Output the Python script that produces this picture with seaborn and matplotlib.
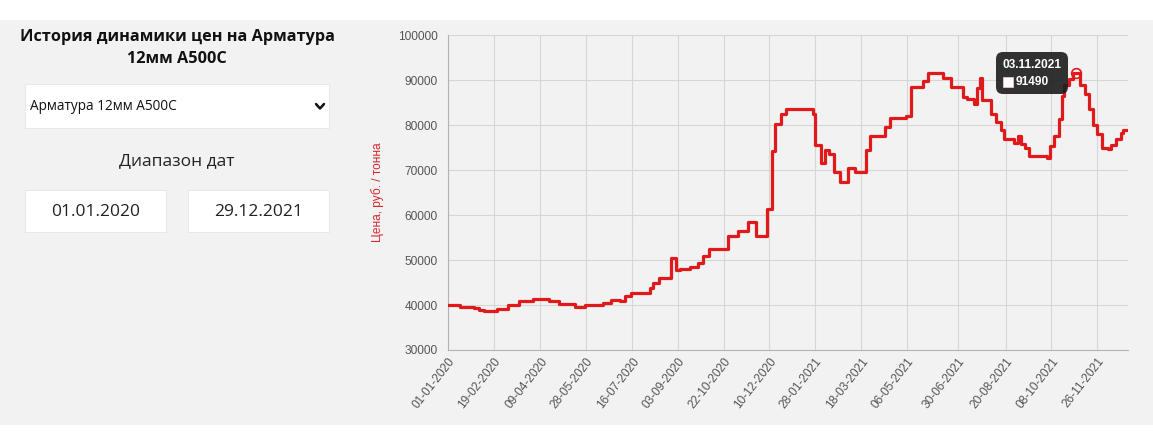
import pandas as pd
import matplotlib.pyplot as plt
import seaborn as sns
from matplotlib.patches import Rectangle
from matplotlib.lines import Line2D
from matplotlib.offsetbox import AnnotationBbox, TextArea, VPacker, HPacker, DrawingArea
import matplotlib.dates as mdates

# Price history (start date of each price level, rub / tonne)
dates = [
    "2020-01-01", "2020-01-14", "2020-01-29", "2020-02-03", "2020-02-09", "2020-02-22",
    "2020-03-05", "2020-03-17", "2020-04-01", "2020-04-18", "2020-04-29", "2020-05-16",
    "2020-05-27", "2020-06-15", "2020-06-24", "2020-07-03", "2020-07-09", "2020-07-15",
    "2020-08-04", "2020-08-08", "2020-08-14", "2020-08-27", "2020-09-01", "2020-09-05",
    "2020-09-16", "2020-09-25", "2020-09-30", "2020-10-06", "2020-10-27", "2020-11-07",
    "2020-11-17", "2020-11-26", "2020-12-08", "2020-12-13", "2020-12-16", "2020-12-22",
    "2020-12-28", "2021-01-26", "2021-01-28", "2021-02-03", "2021-02-08", "2021-02-12",
    "2021-02-17", "2021-02-24", "2021-03-04", "2021-03-12", "2021-03-24", "2021-03-28",
    "2021-04-13", "2021-04-18", "2021-05-05", "2021-05-11", "2021-05-24", "2021-05-29",
    "2021-06-14", "2021-06-22", "2021-07-05", "2021-07-10", "2021-07-17", "2021-07-20",
    "2021-07-24", "2021-07-26", "2021-08-04", "2021-08-10", "2021-08-15", "2021-08-18",
    "2021-08-29", "2021-09-02", "2021-09-05", "2021-09-10", "2021-09-14", "2021-10-03",
    "2021-10-06", "2021-10-11", "2021-10-16", "2021-10-19", "2021-10-21", "2021-10-27",
    "2021-10-31", "2021-11-08", "2021-11-13", "2021-11-17", "2021-11-22", "2021-11-26",
    "2021-12-01", "2021-12-08", "2021-12-11", "2021-12-16", "2021-12-21", "2021-12-24",
    "2021-12-29",
]
prices = [
    39900, 39600, 39300, 38900, 38600, 39200,
    40000, 40900, 41400, 40800, 40200, 39600,
    40100, 40500, 41200, 40900, 42000, 42600,
    43800, 44800, 45900, 50400, 47800, 48100,
    48500, 49300, 51000, 52400, 55300, 56400,
    58400, 55400, 61400, 74200, 80300, 82400,
    83500, 82400, 75500, 71600, 74400, 73500,
    69500, 67400, 70500, 69500, 74400, 77500,
    79600, 81600, 82000, 88500, 89800, 91600,
    90500, 88500, 86300, 85700, 84600, 88300,
    90500, 85500, 82400, 80700, 79000, 77000,
    76100, 77500, 75700, 74900, 73100, 72700,
    75300, 77500, 81300, 86400, 89000, 90300,
    91490, 89000, 86800, 83500, 79900, 77900,
    74900, 74600, 75500, 76800, 78300, 79000,
    79000,
]

tick_dates = [
    "2020-01-01", "2020-02-19", "2020-04-09", "2020-05-28", "2020-07-16",
    "2020-09-03", "2020-10-22", "2020-12-10", "2021-01-28", "2021-03-18",
    "2021-05-06", "2021-06-30", "2021-08-20", "2021-10-08", "2021-11-26",
]
y_ticks = [30000, 40000, 50000, 60000, 70000, 80000, 90000, 100000]

hover_date = "2021-11-03"
hover_price = 91490

df = pd.DataFrame({"date": pd.to_datetime(dates), "price": prices})

sns.set_style("whitegrid", {
    "axes.facecolor": "#f2f2f2",
    "grid.color": "#d6d6d6",
    "axes.edgecolor": "#b3b3b3",
})
plt.rcParams["font.family"] = ["Liberation Sans", "DejaVu Sans"]

W, H = 1153, 445
fig = plt.figure(figsize=(W / 100, H / 100), dpi=100)
fig.patch.set_facecolor("white")
fig.patches.append(Rectangle((0, 20 / H), 1, 405 / H, transform=fig.transFigure,
                             facecolor="#f2f2f2", edgecolor="none", zorder=-5))


def fx(x):
    return x / W


def fy(y):
    return 1 - y / H


# left panel
ui_font = ["Open Sans", "DejaVu Sans"]
fig.text(fx(177), fy(37), "История динамики цен на Арматура", ha="center", va="center",
         fontsize=11.7, fontweight="bold", family=ui_font, color="#111111")
fig.text(fx(177), fy(59), "12мм А500С", ha="center", va="center",
         fontsize=11.7, fontweight="bold", family=ui_font, color="#111111")

fig.patches.append(Rectangle((fx(25), fy(128)), (329 - 25) / W, 44 / H, transform=fig.transFigure,
                             facecolor="white", edgecolor="#e6e6e6", lw=0.6, zorder=-4))
fig.text(fx(30), fy(106), "Арматура 12мм А500С", ha="left", va="center",
         fontsize=9.8, family=ui_font, color="#111111")
fig.add_artist(Line2D([fx(316), fx(320), fx(324)], [fy(104), fy(108.5), fy(104)],
                      transform=fig.transFigure, color="#111111", lw=1.8))

fig.text(fx(177), fy(161), "Диапазон дат", ha="center", va="center",
         fontsize=12.5, family=ui_font, color="#222222")

for x0, x1, label in [(25, 166, "01.01.2020"), (188, 329, "29.12.2021")]:
    fig.patches.append(Rectangle((fx(x0), fy(232)), (x1 - x0) / W, 42 / H, transform=fig.transFigure,
                                 facecolor="white", edgecolor="#e6e6e6", lw=0.6, zorder=-4))
    fig.text(fx((x0 + x1) / 2), fy(212), label, ha="center", va="center",
             fontsize=12.5, family=ui_font, color="#222222")

# chart
ax = fig.add_axes([fx(448), 1 - 350 / H, (1128 - 448) / W, (350 - 35) / H])
sns.lineplot(data=df, x="date", y="price", ax=ax, color="#e0191b", lw=2.3,
             drawstyle="steps-post", zorder=3)

ax.set_xlim(pd.Timestamp("2020-01-01"), pd.Timestamp("2021-12-29"))
ax.set_ylim(30000, 100000)
ax.set_yticks(y_ticks)
ax.set_yticklabels([str(v) for v in y_ticks])
ax.set_xticks(pd.to_datetime(tick_dates))
ax.xaxis.set_major_formatter(mdates.DateFormatter("%d-%m-%Y"))
ax.tick_params(axis="both", labelsize=8.6, labelcolor="#555555", length=0)
ax.tick_params(axis="x", pad=4)
ax.tick_params(axis="y", pad=7.5)
plt.setp(ax.get_xticklabels(), rotation=52, ha="right", rotation_mode="anchor")
ax.grid(True, lw=0.8)
ax.spines["top"].set_visible(False)
ax.spines["right"].set_visible(False)
ax.set_xlabel("")
ax.set_ylabel("Цена, руб. / тонна", color="#d7262b", fontsize=8.6, labelpad=10)

# hover tooltip
hx = pd.Timestamp(hover_date)
hover_label = hover_date[8:10] + "." + hover_date[5:7] + "." + hover_date[:4]
ax.plot([hx], [hover_price], marker="o", ms=7, mfc="none", mec="#e0191b", mew=1.2, zorder=4)

tip_props = dict(color="white", fontsize=8.6, fontweight="bold")
swatch = DrawingArea(7.5, 7.5)
swatch.add_artist(Rectangle((0, 0), 7.5, 7.5, facecolor="white", edgecolor="#f3c1c1", lw=0.6))
row = HPacker(children=[swatch, TextArea(str(hover_price), textprops=tip_props)],
              sep=1.5, pad=0, align="center")
tip = VPacker(children=[TextArea(hover_label, textprops=tip_props), row],
              sep=4, pad=0, align="left")
ab = AnnotationBbox(tip, (hx, hover_price), xybox=(-14, 0), boxcoords="offset pixels",
                    box_alignment=(1, 0.5), frameon=True, pad=0.45, zorder=5,
                    bboxprops=dict(boxstyle="round,pad=0.45,rounding_size=0.5",
                                   facecolor="#1c1c1c", edgecolor="none", alpha=0.9))
ax.add_artist(ab)

fig.savefig("out.png", dpi=100)
